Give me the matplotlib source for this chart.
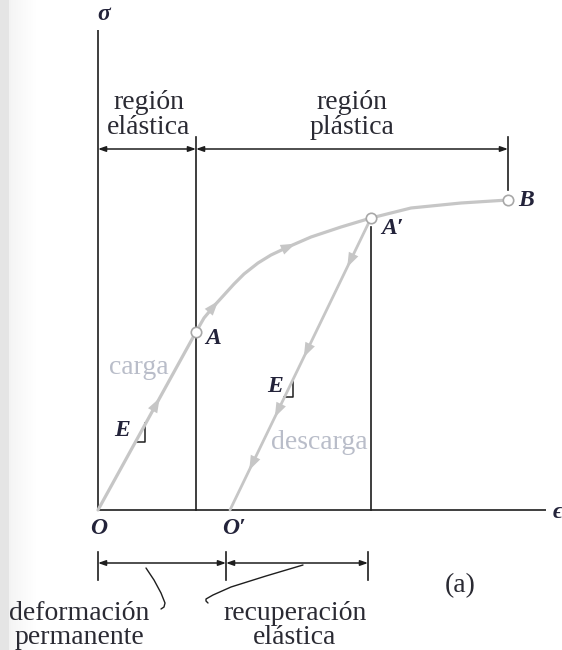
import numpy as np
import matplotlib
matplotlib.use("Agg")
import matplotlib.pyplot as plt

# ---- curve data (strain, stress in arbitrary units) ----
load_eps = [0.0, 0.98]
load_sig = [0.0, 1.78]

plastic_eps = [0.98, 1.06, 1.16, 1.26, 1.36, 1.46, 1.60, 1.73, 1.90, 2.13, 2.43,
               2.73, 3.13, 3.63, 4.10]
plastic_sig = [1.78, 1.92, 2.04, 2.15, 2.26, 2.36, 2.47, 2.55, 2.63, 2.73, 2.83,
               2.92, 3.02, 3.07, 3.10]

unload_eps = [2.73, 1.32]
unload_sig = [2.92, 0.0]

# marked points A, A', B
pt_eps = [0.98, 2.73, 4.10]
pt_sig = [1.78, 2.92, 3.10]

# direction arrows along the path
load_arrow_sig = [1.05]
plastic_arrow_eps = [1.15, 1.90]
unload_arrow_sig = [2.50, 1.60, 1.00, 0.47]

# strain marks on the axis
eps_A = 0.98
eps_Ap = 2.73
eps_B = 4.10
eps_Op = 1.28

CURVE = "#c6c6c6"
INK = "#1e1e1e"
LABEL = "#23233a"
SOFT = "#b9bdc9"

fig = plt.figure(figsize=(5.62, 6.50), dpi=100)

# soft grey edge on the left side of the page
bg = fig.add_axes([0, 0, 1, 1], zorder=-5)
bg.set_axis_off()
cols = np.ones(562)
cols[:9] = 0.895
cols[9:39] = np.linspace(0.955, 1.0, 30)
img = np.tile(cols, (650, 1))
bg.imshow(img, cmap="gray", vmin=0, vmax=1, aspect="auto",
          extent=[0, 1, 0, 1], interpolation="bilinear")

ax = fig.add_axes([0, 0, 1, 1])
ax.set_xlim(-0.98, 4.64)
ax.set_ylim(-1.40, 5.10)
ax.set_axis_off()

serif = ["Liberation Serif", "DejaVu Serif"]

# axes
ax.plot([0, 0], [0, 4.80], color=INK, lw=1.2, solid_capstyle="butt")
ax.plot([0, 4.48], [0, 0], color=INK, lw=1.2, solid_capstyle="butt")

# vertical guides
ax.plot([eps_A, eps_A], [0, 3.73], color=INK, lw=1.2)
ax.plot([eps_Ap, eps_Ap], [0, 2.83], color=INK, lw=1.2)
ax.plot([eps_B, eps_B], [3.20, 3.73], color=INK, lw=1.2)

# stress-strain path
ax.plot(load_eps, load_sig, color=CURVE, lw=2.3, solid_capstyle="round", zorder=3)
ax.plot(plastic_eps, plastic_sig, color=CURVE, lw=2.3, solid_capstyle="round",
        solid_joinstyle="round", zorder=3)
ax.plot(unload_eps, unload_sig, color=CURVE, lw=2.0, solid_capstyle="round", zorder=3)

head = dict(arrowstyle="-|>,head_length=0.75,head_width=0.27", color=CURVE,
            lw=0, mutation_scale=14, shrinkA=0, shrinkB=0)


def arrow_at(x, y, dx, dy):
    n = np.hypot(dx, dy)
    dx, dy = dx / n * 0.08, dy / n * 0.08
    ax.annotate("", xy=(x + dx, y + dy), xytext=(x - dx, y - dy),
                arrowprops=head, zorder=4)


# arrows on loading line
s_load = load_sig[1] / load_eps[1]
for s in load_arrow_sig:
    arrow_at(s / s_load, s, 1.0, s_load)

# arrows on plastic curve
pe = np.array(plastic_eps)
ps = np.array(plastic_sig)
slope = np.gradient(ps, pe)
for e in plastic_arrow_eps:
    arrow_at(e, np.interp(e, pe, ps), 1.0, np.interp(e, pe, slope))

# arrows on unloading line
s_un = (unload_sig[0] - unload_sig[1]) / (unload_eps[0] - unload_eps[1])
for s in unload_arrow_sig:
    arrow_at(unload_eps[1] + s / s_un, s, -1.0, -s_un)

# open markers
ax.plot(pt_eps, pt_sig, "o", ms=7.5, mfc="white", mec="#a8a8a8", mew=1.2, zorder=6)

# dimension brackets
dim = dict(arrowstyle="<|-|>,head_length=0.45,head_width=0.16", color=INK,
           lw=1.1, mutation_scale=10, shrinkA=0, shrinkB=0)
ax.annotate("", xy=(0, 3.61), xytext=(eps_A, 3.61), arrowprops=dim)
ax.annotate("", xy=(eps_A, 3.61), xytext=(eps_B, 3.61), arrowprops=dim)

yb = -0.53
ax.annotate("", xy=(0, yb), xytext=(eps_Op, yb), arrowprops=dim)
ax.annotate("", xy=(eps_Op, yb), xytext=(2.70, yb), arrowprops=dim)
for x in [0, eps_Op, 2.70]:
    ax.plot([x, x], [-0.42, -0.70], color=INK, lw=1.2)

# leader strokes
ax.plot([0.48, 0.56, 0.63, 0.67, 0.66, 0.63], [-0.58, -0.70, -0.83, -0.93, -0.97, -0.99],
        color=INK, lw=1.0, solid_capstyle="round")
ax.plot([2.05, 1.68, 1.33, 1.15, 1.08, 1.08, 1.10], [-0.55, -0.66, -0.77, -0.85, -0.89, -0.91, -0.93],
        color=INK, lw=1.0, solid_capstyle="round")

# slope marks
ax.plot([0.37, 0.47, 0.47], [0.68, 0.68, 0.87], color=INK, lw=1.1)
ax.plot([1.86, 1.95, 1.95], [1.13, 1.13, 1.30], color=INK, lw=1.1)

# point and axis labels
lab = dict(family=serif, style="italic", color=LABEL, fontsize=17, fontweight="bold",
           ha="center", va="center")
ax.text(0.06, 4.95, "σ", **lab)
ax.text(4.60, -0.03, "ϵ", **lab)
ax.text(1.15, 1.72, "A", **lab)
ax.text(2.94, 2.81, "A′", **lab)
ax.text(4.28, 3.09, "B", **lab)
ax.text(0.01, -0.18, "O", **lab)
ax.text(1.36, -0.18, "O′", **lab)
ax.text(0.24, 0.80, "E", **lab)
ax.text(1.77, 1.23, "E", **lab)

body = dict(family=serif, color="#2a2a33", fontsize=20, ha="center", va="baseline")
ax.text(0.51, 4.01, "región", **body)
ax.text(0.51, 3.76, "elástica", **body)
ax.text(2.54, 4.01, "región", **body)
ax.text(2.54, 3.76, "plástica", **body)
ax.text(-0.19, -1.10, "deformación", **body)
ax.text(-0.19, -1.34, "permanente", **body)
ax.text(1.97, -1.10, "recuperación", **body)
ax.text(1.97, -1.34, "elástica", **body)
ax.text(3.62, -0.82, "(a)", **body)

soft = dict(family=serif, color=SOFT, fontsize=20, ha="center", va="baseline")
ax.text(0.41, 1.36, "carga", **soft)
ax.text(2.21, 0.61, "descarga", **soft)

fig.savefig("out.png", dpi=100)
